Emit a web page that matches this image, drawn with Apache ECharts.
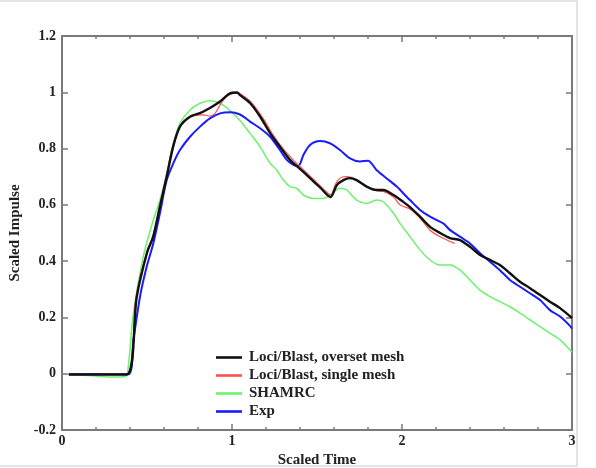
<!DOCTYPE html>
<html>
<head>
<meta charset="utf-8">
<script src="https://cdn.jsdelivr.net/npm/echarts@6/dist/echarts.min.js"></script>
<style>html,body{margin:0;padding:0;background:#fff;}#c{width:596px;height:468px;}</style>
</head>
<body>
<div id="c"></div>
<script>
// Data: [scaled time, scaled impulse]
const overset = [[0.04,-0.003],[0.2,-0.003],[0.38,-0.003],[0.44,0.274],[0.5,0.43],[0.536,0.486],[0.576,0.594],[0.616,0.70],[0.654,0.807],[0.694,0.878],[0.753,0.913],[0.812,0.926],[0.87,0.944],[0.93,0.967],[0.988,0.996],[1.03,0.999],[1.047,0.99],[1.106,0.962],[1.165,0.914],[1.224,0.855],[1.282,0.807],[1.341,0.76],[1.4,0.728],[1.459,0.695],[1.518,0.662],[1.58,0.628],[1.616,0.67],[1.655,0.688],[1.694,0.695],[1.733,0.688],[1.792,0.665],[1.85,0.653],[1.89,0.653],[1.95,0.635],[2.006,0.611],[2.047,0.592],[2.106,0.558],[2.165,0.522],[2.224,0.50],[2.282,0.482],[2.341,0.475],[2.4,0.451],[2.459,0.422],[2.518,0.404],[2.576,0.386],[2.635,0.357],[2.694,0.327],[2.753,0.304],[2.812,0.28],[2.87,0.256],[2.93,0.233],[3.0,0.198]];
const single = [[0.04,-0.002],[0.38,-0.002],[0.435,0.27],[0.497,0.43],[0.536,0.49],[0.576,0.6],[0.616,0.71],[0.654,0.815],[0.694,0.88],[0.735,0.908],[0.78,0.918],[0.83,0.92],[0.87,0.915],[0.9,0.925],[0.925,0.95],[0.95,0.974],[0.98,0.99],[1.03,0.998],[1.06,0.99],[1.12,0.96],[1.18,0.91],[1.24,0.85],[1.3,0.80],[1.36,0.76],[1.42,0.725],[1.48,0.69],[1.54,0.655],[1.58,0.635],[1.61,0.675],[1.635,0.695],[1.67,0.70],[1.70,0.698],[1.74,0.685],[1.79,0.665],[1.85,0.65],[1.89,0.648],[1.95,0.628],[1.988,0.60],[2.047,0.585],[2.106,0.553],[2.165,0.51],[2.224,0.487],[2.31,0.463]];
const shamrc = [[0.04,-0.003],[0.2,-0.008],[0.3,-0.012],[0.37,-0.01],[0.385,0.0],[0.42,0.215],[0.478,0.416],[0.537,0.546],[0.576,0.617],[0.616,0.713],[0.655,0.819],[0.694,0.89],[0.753,0.937],[0.812,0.961],[0.87,0.97],[0.93,0.961],[0.988,0.935],[1.047,0.9],[1.106,0.854],[1.165,0.807],[1.224,0.748],[1.263,0.724],[1.302,0.688],[1.341,0.665],[1.38,0.659],[1.42,0.635],[1.478,0.623],[1.537,0.623],[1.576,0.635],[1.635,0.659],[1.675,0.653],[1.733,0.617],[1.792,0.605],[1.85,0.617],[1.89,0.611],[1.95,0.57],[1.988,0.534],[2.047,0.487],[2.106,0.44],[2.165,0.404],[2.224,0.386],[2.282,0.386],[2.341,0.368],[2.4,0.333],[2.459,0.297],[2.518,0.274],[2.576,0.256],[2.635,0.238],[2.694,0.215],[2.753,0.191],[2.812,0.167],[2.87,0.144],[2.93,0.12],[2.988,0.084],[3.0,0.076]];
const exp = [[0.04,-0.002],[0.39,-0.002],[0.42,0.12],[0.459,0.274],[0.498,0.38],[0.537,0.463],[0.576,0.57],[0.616,0.688],[0.655,0.748],[0.694,0.795],[0.753,0.842],[0.812,0.878],[0.87,0.907],[0.93,0.925],[0.988,0.929],[1.047,0.921],[1.106,0.896],[1.165,0.872],[1.224,0.842],[1.282,0.795],[1.322,0.76],[1.361,0.742],[1.39,0.738],[1.42,0.777],[1.459,0.813],[1.518,0.827],[1.576,0.819],[1.635,0.795],[1.694,0.765],[1.753,0.754],[1.80,0.757],[1.85,0.724],[1.91,0.694],[1.969,0.665],[2.027,0.629],[2.047,0.617],[2.106,0.582],[2.165,0.558],[2.243,0.534],[2.282,0.511],[2.341,0.487],[2.4,0.463],[2.459,0.428],[2.518,0.398],[2.576,0.368],[2.635,0.333],[2.694,0.309],[2.753,0.286],[2.812,0.262],[2.87,0.226],[2.93,0.203],[2.988,0.17],[3.0,0.16]];
const seriesNames = ['Loci/Blast, overset mesh','Loci/Blast, single mesh','SHAMRC','Exp'];
const xTitle = 'Scaled Time';
const yTitle = 'Scaled Impulse';

const font = '"Liberation Serif", "Times New Roman", serif';
const axisCol = '#7a7a7a';
const lab = {fontFamily: font, fontWeight: 'bold', fontSize: 14, color: '#222'};
const titleStyle = {fontFamily: font, fontWeight: 'bold', fontSize: 15, color: '#222'};

const chart = echarts.init(document.getElementById('c'), null, {renderer: 'canvas'});
function mkX(pos, show) {
  return {
    type: 'value', position: pos, min: 0, max: 3, interval: 1,
    axisLine: {show: true, onZero: false, lineStyle: {color: axisCol, width: 2}},
    axisTick: {show: true, inside: true, length: 6, lineStyle: {color: axisCol, width: 1.5}},
    minorTick: {show: true, splitNumber: 5, length: 3, lineStyle: {color: axisCol, width: 1.5}},
    axisLabel: show ? Object.assign({margin: 4}, lab) : {show: false},
    splitLine: {show: false},
    name: show ? xTitle : '', nameLocation: 'middle', nameGap: 21,
    nameTextStyle: titleStyle
  };
}
function mkY(pos, show) {
  return {
    type: 'value', position: pos, min: -0.2, max: 1.2, interval: 0.2,
    axisLine: {show: true, onZero: false, lineStyle: {color: axisCol, width: 2}},
    axisTick: {show: true, inside: true, length: 6, lineStyle: {color: axisCol, width: 1.5}},
    axisLabel: show ? Object.assign({margin: 6, formatter: v => String(parseFloat(v.toFixed(1)))}, lab) : {show: false},
    splitLine: {show: false},
    name: show ? yTitle : '', nameLocation: 'middle', nameGap: 36,
    nameTextStyle: titleStyle
  };
}
function line(name, data, color, width, z) {
  return {name, type: 'line', data, showSymbol: false, symbol: 'none', smooth: 0.3, z,
    lineStyle: {color, width}, itemStyle: {color}, xAxisIndex: 0, yAxisIndex: 0};
}
chart.setOption({
  animation: false,
  backgroundColor: '#fff',
  grid: {left: 62, right: 24, top: 36, bottom: 38, containLabel: false, outerBoundsMode: 'none'},
  xAxis: [mkX('bottom', true), mkX('top', false)],
  yAxis: [mkY('left', true), mkY('right', false)],
  legend: {
    orient: 'vertical', left: 211, top: 345, itemWidth: 26, itemHeight: 10, itemGap: 3,
    icon: 'path://M0,0 L10,0 L10,1 L0,1 Z',
    textStyle: {fontFamily: font, fontWeight: 'bold', fontSize: 15, color: '#222', padding: [0,0,0,2]},
    data: seriesNames
  },
  graphic: [{type: 'rect', shape: {x: -2, y: 1, width: 579, height: 465}, style: {fill: 'none', stroke: '#dcdcdc', lineWidth: 1.5}, silent: true}],
  series: [
    line(seriesNames[2], shamrc, '#6cf26c', 1.5, 2),
    line(seriesNames[3], exp, '#1a1aff', 2, 3),
    line(seriesNames[1], single, '#ff5050', 1.2, 4),
    line(seriesNames[0], overset, '#111', 2.4, 5)
  ]
});
</script>
</body>
</html>
